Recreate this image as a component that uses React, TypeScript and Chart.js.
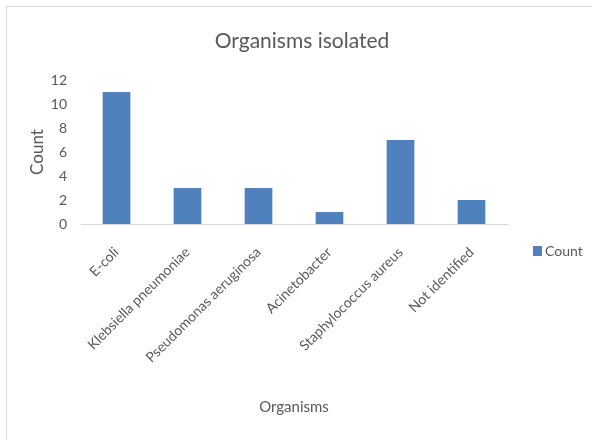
import React, { useEffect, useRef } from "react";
import { Chart, registerables } from "chart.js";

Chart.register(...registerables);

const chartTitle = "Organisms isolated";
const categories = [
  "E-coli",
  "Klebsiella pneumoniae",
  "Pseudomonas aeruginosa",
  "Acinetobacter",
  "Staphylococcus aureus",
  "Not identified",
];
const seriesName = "Count";
const counts = [11, 3, 3, 1, 7, 2];
const yTicks = [0, 2, 4, 6, 8, 10, 12];
const xAxisTitle = "Organisms";
const yAxisTitle = "Count";

const FONT = "Lato, 'Noto Sans', sans-serif";
const TEXT = "#595959";
const BAR = "#4F81BD";

const titlePlugin = {
  id: "excelTitle",
  afterDraw(chart: any) {
    const ctx = chart.ctx;
    ctx.save();
    ctx.fillStyle = TEXT;
    ctx.font = `21px ${FONT}`;
    ctx.textAlign = "center";
    ctx.textBaseline = "alphabetic";
    ctx.fillText(chartTitle, chart.width / 2 + 6, 48);
    ctx.restore();
  },
};

const legendPlugin = {
  id: "excelLegend",
  afterDraw(chart: any) {
    const ctx = chart.ctx;
    const ds = chart.data.datasets[0];
    const x = chart.chartArea.right + 26;
    const y = 251;
    ctx.save();
    ctx.fillStyle = ds.backgroundColor;
    ctx.fillRect(x, y - 5, 9, 10);
    ctx.fillStyle = TEXT;
    ctx.font = `14px ${FONT}`;
    ctx.textAlign = "left";
    ctx.textBaseline = "middle";
    ctx.fillText(ds.label, x + 12, y);
    ctx.restore();
  },
};

export default function App() {
  const ref = useRef<HTMLCanvasElement | null>(null);

  useEffect(() => {
    if (!ref.current) return;
    const chart = new Chart(ref.current, {
      type: "bar",
      data: {
        labels: categories,
        datasets: [
          {
            label: seriesName,
            data: counts,
            backgroundColor: BAR,
            borderWidth: 0,
            barPercentage: 0.39,
            categoryPercentage: 1,
          },
        ],
      },
      options: {
        responsive: false,
        animation: false,
        layout: { padding: { left: 18, right: 85, top: 80, bottom: 20 } },
        plugins: {
          legend: { display: false },
          title: { display: false },
          tooltip: { enabled: false },
        },
        scales: {
          x: {
            grid: { display: false, drawTicks: false },
            border: { display: true, color: "#D9D9D9", width: 1 },
            ticks: {
              autoSkip: false,
              maxRotation: 45,
              minRotation: 45,
              padding: 20,
              color: TEXT,
              font: { family: FONT, size: 14 },
            },
            title: {
              display: true,
              text: xAxisTitle,
              color: TEXT,
              font: { family: FONT, size: 15 },
              padding: { top: 4, bottom: 4 },
            },
            afterFit(s: any) {
              s.height = 196;
            },
          },
          y: {
            min: yTicks[0],
            max: yTicks[yTicks.length - 1],
            afterBuildTicks(s: any) {
              s.ticks = yTicks.map((v) => ({ value: v }));
            },
            grid: { display: false, drawTicks: false },
            border: { display: false },
            ticks: {
              padding: 14,
              color: TEXT,
              font: { family: FONT, size: 14 },
            },
            title: {
              display: true,
              text: yAxisTitle,
              color: TEXT,
              font: { family: FONT, size: 17 },
              padding: { top: 9, bottom: 4 },
            },
            afterFit(s: any) {
              s.width = 63;
            },
          },
        },
      },
      plugins: [titlePlugin, legendPlugin],
    });
    return () => chart.destroy();
  }, []);

  return (
    <div
      style={{
        position: "fixed",
        left: 0,
        top: 0,
        width: 592,
        height: 440,
        overflow: "hidden",
        background: "#fff",
      }}
    >
      <div
        style={{
          position: "absolute",
          left: 6,
          top: 6,
          width: 640,
          height: 480,
          border: "1px solid #D9D9D9",
          boxSizing: "border-box",
        }}
      />
      <canvas
        ref={ref}
        width={592}
        height={440}
        style={{ position: "absolute", left: 0, top: 0, width: 592, height: 440 }}
      />
    </div>
  );
}
